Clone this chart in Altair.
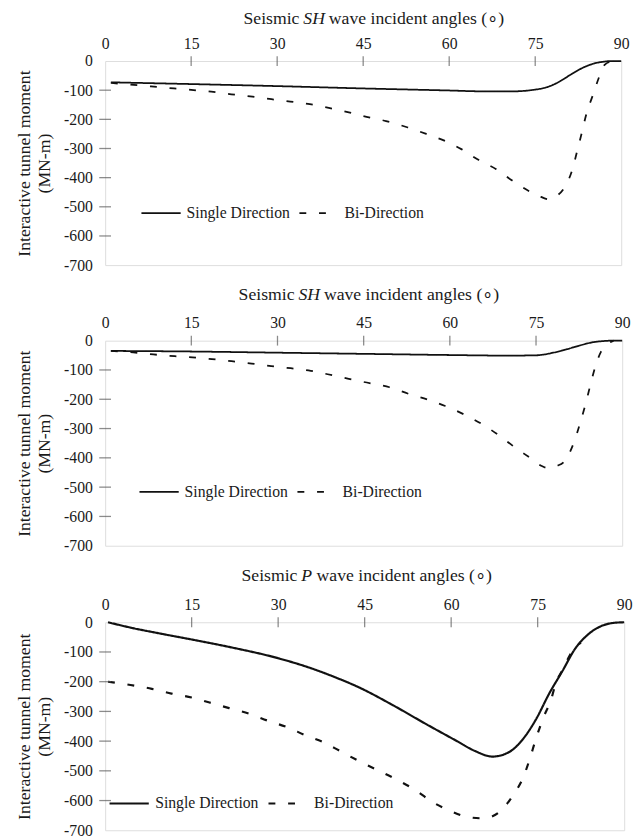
import altair as alt
import pandas as pd

FONT = "Liberation Serif"
TXT = "#1a1a1a"
FRAME = "#5a5a5a"
LINE = "#111111"

x_ticks = [0, 15, 30, 45, 60, 75, 90]
y_ticks = [0, -100, -200, -300, -400, -500, -600, -700]
inner_x_ticks = [15, 30, 45, 60, 75]
inner_y_ticks = [-100, -200, -300, -400, -500, -600]
series_names = ["Single Direction", "Bi-Direction"]
y_title = ["Interactive tunnel moment", "(MN-m)"]

# Panel 1: SH wave
p1_single_angle = [1, 15, 30, 45, 60, 66, 71, 75, 77, 79, 81, 83, 85, 87, 88.5, 90]
p1_single_moment = [-73, -79, -86, -94, -101, -104, -104, -98, -90, -73, -49, -26, -10, -2, 0, 0]
p1_bi_angle = [1, 5, 8, 12, 15, 18.5, 22, 25.7, 29, 32.3, 35.7, 39, 42.5, 45, 49, 52.8, 56,
               59.5, 62.2, 65, 68.2, 71, 74, 76, 77.3, 78.5, 80, 81.4, 82.3, 83.1, 84, 85,
               86.2, 87.1, 88, 89.5]
p1_bi_moment = [-75, -82, -87, -94, -99, -105, -114, -122, -131, -139, -148, -161, -176, -189,
                -206, -228, -250, -276, -303, -338, -371, -410, -447, -466, -474, -465, -437,
                -377, -310, -248, -176, -120, -52, -13, -3, 0]

# Panel 2: SH wave
p2_single_angle = [1, 15, 30, 45, 60, 70, 75, 78, 80.4, 82.7, 85, 87, 88, 90]
p2_single_moment = [-35, -37, -41, -45, -49, -51, -50, -41, -29, -16, -5, -1, 0, 0]
p2_bi_angle = [1, 4.9, 8.4, 12.1, 15.2, 18.6, 22, 25.5, 28.9, 32.3, 35.8, 40, 45, 49.5, 52.9,
               56.1, 59.2, 62.4, 65.6, 68.4, 71.3, 74.2, 76, 77.3, 78.6, 80.1, 81.6, 82.7,
               83.6, 84.4, 85.4, 86.3, 87.2, 88.5]
p2_bi_moment = [-35, -40, -47, -53, -57, -63, -70, -78, -87, -94, -103, -120, -141, -159, -182,
                -201, -223, -251, -285, -321, -364, -403, -428, -436, -428, -408, -347, -280,
                -218, -156, -83, -38, -16, 0]

# Panel 3: P wave
p3_single_angle = [0.5, 4.4, 10.1, 15, 21.5, 30, 35.6, 40, 44, 49.8, 55.5, 61.1, 64, 67.2,
                   70.2, 72.5, 74.7, 77, 79.3, 81.5, 83.8, 86, 88.2, 90]
p3_single_moment = [0, -18, -40, -58, -83, -121, -154, -186, -219, -278, -341, -401, -432, -452,
                    -435, -392, -327, -240, -164, -89, -40, -13, -2, 0]
p3_bi_angle = [0.5, 4.4, 8.1, 11.5, 15, 18.1, 21.5, 24.9, 28.3, 31.7, 34.7, 37.8, 40.7, 44,
               49.8, 53.8, 56.6, 60, 62.8, 65.6, 68.5, 70.7, 72.5, 73.6, 74.7, 76.1, 77.3,
               78.1, 79.5, 80.6, 81.7, 82.5]
p3_bi_moment = [-200, -211, -224, -240, -253, -270, -289, -307, -332, -354, -380, -403, -433,
                -467, -522, -565, -603, -636, -655, -660, -636, -583, -522, -462, -392, -316,
                -262, -208, -154, -110, -83, -68]


def make_panel(sa, sm, ba, bm, wave, title_x, title_y, width, height,
               legend_x, legend_y, solid_w, label_pad, title_pad):
    df = pd.DataFrame({
        "angle": list(sa) + list(ba),
        "moment": list(sm) + list(bm),
        "series": [series_names[0]] * len(sa) + [series_names[1]] * len(ba),
    })
    x_scale = alt.Scale(domain=[0, 90], nice=False, zero=False)
    y_scale = alt.Scale(domain=[-700, 0], nice=False, zero=False)
    x_axis = alt.Axis(orient="top", values=x_ticks, title=None, grid=False,
                      ticks=False, tickSize=0, domain=False, labelFlush=False,
                      labelOverlap=False, labelPadding=10, labelFont=FONT,
                      labelFontSize=16, labelColor=TXT)
    y_axis = alt.Axis(values=y_ticks, title=y_title, grid=False, ticks=False,
                      tickSize=0, domain=False, labelPadding=label_pad,
                      labelOverlap=False, labelFont=FONT, labelFontSize=16,
                      labelColor=TXT, labelExpr="'' + datum.value",
                      titleFont=FONT, titleFontSize=18, titleFontWeight="normal",
                      titleColor=TXT, titlePadding=title_pad, titleLineHeight=21)
    x_enc = alt.X("angle:Q", scale=x_scale, axis=x_axis)
    y_enc = alt.Y("moment:Q", scale=y_scale, axis=y_axis)

    lines = alt.Chart(df).mark_line(interpolate="monotone", color=LINE,
                                    strokeWidth=solid_w).encode(
        x=x_enc,
        y=y_enc,
        strokeDash=alt.StrokeDash(
            "series:N",
            scale=alt.Scale(domain=series_names, range=[[1, 0], [7, 13]]),
            legend=alt.Legend(orient="none", legendX=legend_x, legendY=legend_y,
                              direction="horizontal", title=None, symbolType="stroke",
                              symbolSize=1600, symbolStrokeWidth=solid_w,
                              symbolStrokeColor=LINE,
                              labelFont=FONT, labelFontSize=16, labelColor=TXT,
                              labelOffset=5, columnPadding=5, padding=0, labelLimit=0),
        ),
    )
    xt = alt.Chart(pd.DataFrame({"angle": inner_x_ticks,
                                 "moment": [0] * len(inner_x_ticks)})).mark_tick(
        orient="vertical", size=10, thickness=1.3, color=FRAME).encode(x=x_enc, y=y_enc)
    yt = alt.Chart(pd.DataFrame({"angle": [0] * len(inner_y_ticks),
                                 "moment": inner_y_ticks})).mark_tick(
        orient="horizontal", size=12, thickness=1.3, color=FRAME).encode(x=x_enc, y=y_enc)

    t_style = dict(baseline="middle", font=FONT, fontSize=18, color=TXT)
    t1 = alt.Chart(pd.DataFrame({"t": ["Seismic"]})).mark_text(align="right", **t_style).encode(
        text="t:N", x=alt.value(title_x - 4), y=alt.value(title_y))
    t2 = alt.Chart(pd.DataFrame({"t": [wave]})).mark_text(align="left", fontStyle="italic",
                                                         **t_style).encode(
        text="t:N", x=alt.value(title_x), y=alt.value(title_y))
    shift = 26 if wave == "SH" else 15.5
    t3 = alt.Chart(pd.DataFrame({"t": ["wave incident angles (\u2218)"]})).mark_text(
        align="left", **t_style).encode(
        text="t:N", x=alt.value(title_x + shift), y=alt.value(title_y))

    return alt.layer(lines, xt, yt, t1, t2, t3).properties(width=width, height=height)


c1 = make_panel(p1_single_angle, p1_single_moment, p1_bi_angle, p1_bi_moment, "SH",
                202, -43, 526, 208, 36, 134, 1.8, 13, 10)
c2 = make_panel(p2_single_angle, p2_single_moment, p2_bi_angle, p2_bi_moment, "SH",
                197, -46, 527, 209, 34, 133, 1.8, 13, 10)
c3 = make_panel(p3_single_angle, p3_single_moment, p3_bi_angle, p3_bi_moment, "P",
                200, -47, 529, 212, 3, 163, 2.2, 13, 10)

chart = alt.vconcat(c1, c2, c3, spacing=12).resolve_scale(
    x="independent", y="independent", strokeDash="independent"
).resolve_legend(strokeDash="independent").configure_view(
    stroke=FRAME, strokeWidth=1.5
).configure_axis(
    labelFont=FONT, titleFont=FONT
).configure_legend(
    labelFont=FONT
).configure_text(
    font=FONT
).configure(padding={"left": 7, "top": -7, "right": 0, "bottom": 0}, background="white",
            font=FONT)

chart.save("out.html", embed_options={"renderer": "svg", "actions": False})
